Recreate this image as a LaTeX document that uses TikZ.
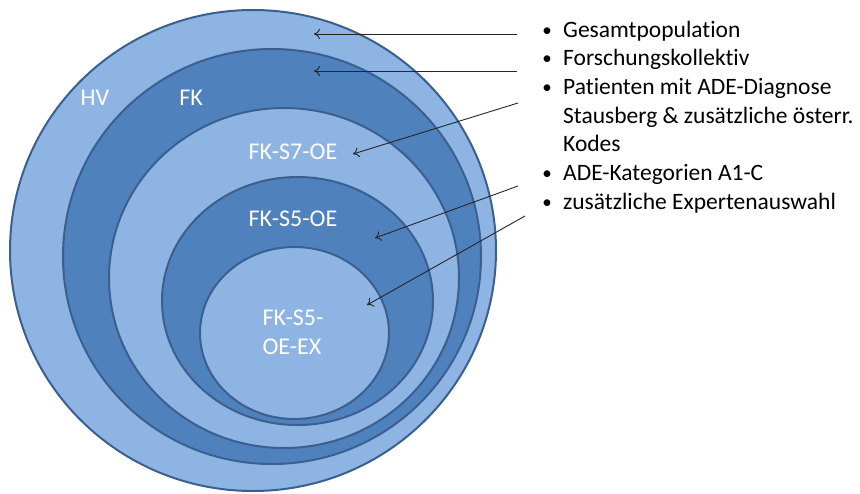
\documentclass[tikz,border=0pt]{standalone}
\usepackage{fontspec}
\setmainfont{Carlito}[Ligatures={NoCommon}]
\usetikzlibrary{shapes.geometric,arrows.meta}
\definecolor{ringlight}{HTML}{8EB4E3}
\definecolor{ringdark}{HTML}{4F81BD}
\definecolor{ringline}{HTML}{3B6090}
\begin{document}
\begin{tikzpicture}[x=1pt,y=-1pt,
  ring/.style={ellipse, draw=ringline, line width=2pt, inner sep=0pt},
  lightring/.style={ring, fill=ringlight},
  darkring/.style={ring, fill=ringdark},
  ringlabel/.style={text=white, font=\fontsize{24}{29}\selectfont, inner sep=0pt},
  item/.style={anchor=base west, inner sep=0pt, font=\fontsize{23.5}{28.7}\selectfont},
  bulletmark/.style={anchor=base, inner sep=0pt, font=\fontsize{19}{28.7}\selectfont},
  pointer/.style={draw=black!85, line width=0.9pt, -{To[length=6pt,width=10pt]}}]
\useasboundingbox (0,0) rectangle (860,493);

% nested populations
\node[lightring, minimum width=486pt, minimum height=481pt] (hv) at (253,250.5) {};
\node[darkring,  minimum width=418pt, minimum height=415pt] (fk) at (272,256.5) {};
\node[lightring, minimum width=350pt, minimum height=340pt] (s7) at (284,278) {};
\node[darkring,  minimum width=271pt, minimum height=248pt] (s5) at (297.5,301) {};
\node[lightring, minimum width=189pt, minimum height=172pt] (ex) at (294.5,333) {};

% ring labels
\node[ringlabel] (lhv) at (95,98) {HV};
\node[ringlabel] (lfk) at (191,98) {FK};
\node[ringlabel] (ls7) at (293,152) {FK-S7-OE};
\node[ringlabel] (ls5) at (293,219) {FK-S5-OE};
\node[ringlabel, align=left] (lex) at (293,332) {FK-S5-\\OE-EX};

% legend
\node[bulletmark] (b1) at (547,36) {•};
\node[item] (t1) at (563,37) {Gesamtpopulation};
\node[bulletmark] (b2) at (547,64) {•};
\node[item] (t2) at (563,65) {Forschungskollektiv};
\node[bulletmark] (b3) at (547,93) {•};
\node[item] (t3) at (563,94) {Patienten mit ADE-Diagnose};
\node[item] (t3b) at (563,123) {Stausberg \& zusätzliche österr.};
\node[item] (t3c) at (563,151) {Kodes};
\node[bulletmark] (b4) at (547,179) {•};
\node[item] (t4) at (563,180) {ADE-Kategorien A1-C};
\node[bulletmark] (b5) at (547,208) {•};
\node[item] (t5) at (563,209) {zusätzliche Expertenauswahl};

% pointer lines
\coordinate (s1) at (517,34);  \coordinate (e1) at (314,34);
\coordinate (s2) at (517,71);  \coordinate (e2) at (314,71);
\coordinate (s3) at (518,103); \coordinate (e3) at (353,154);
\coordinate (s4) at (518,186); \coordinate (e4) at (375,238);
\coordinate (s5p) at (525,216); \coordinate (e5) at (367,305);
\draw[pointer] (s1) -- (e1);
\draw[pointer] (s2) -- (e2);
\draw[pointer] (s3) -- (e3);
\draw[pointer] (s4) -- (e4);
\draw[pointer] (s5p) -- (e5);
\end{tikzpicture}
\end{document}
